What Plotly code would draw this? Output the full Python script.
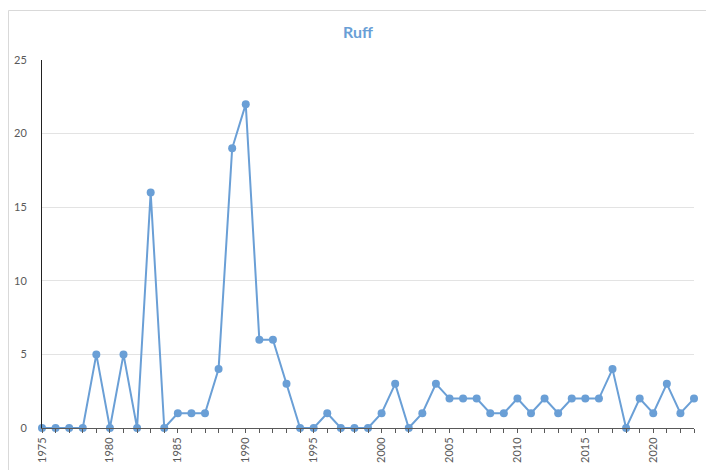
import plotly.graph_objects as go

years = list(range(1975, 2024))
counts = [0, 0, 0, 0, 5, 0, 5, 0, 16, 0,
          1, 1, 1, 4, 19, 22, 6, 6, 3, 0,
          0, 1, 0, 0, 0, 1, 3, 0, 1, 3,
          2, 2, 2, 1, 1, 2, 1, 2, 1, 2,
          2, 2, 4, 0, 2, 1, 3, 1, 2]
x_tickvals = list(range(1975, 2021, 5))
y_tickvals = [0, 5, 10, 15, 20, 25]

W, H = 706, 470
L, R, T, B = 42, 12, 60, 42

fig = go.Figure()
fig.add_trace(go.Scatter(
    x=years, y=counts, mode="lines+markers",
    line=dict(color="#6A9FD6", width=2),
    marker=dict(color="#6A9FD6", size=8),
    cliponaxis=False, showlegend=False,
))

pw = W - L - R
ph = H - T - B
bx0 = (8.5 - L) / pw
bx1 = (W + 5 - L) / pw
by0 = -(B + 5) / ph
by1 = (H - 10.5 - B) / ph
border = dict(color="#D9D9D9", width=1)
fig.add_shape(type="line", xref="paper", yref="paper",
              x0=bx0, x1=bx1, y0=by1, y1=by1, line=border, layer="below")
fig.add_shape(type="line", xref="paper", yref="paper",
              x0=bx0, x1=bx0, y0=by0, y1=by1, line=border, layer="below")

fig.update_layout(
    width=W, height=H,
    margin=dict(l=L, r=R, t=T, b=B, autoexpand=False),
    paper_bgcolor="white", plot_bgcolor="white",
    font=dict(family="Lato, 'Open Sans', sans-serif", color="#595959"),
    title=dict(text="<b>Ruff</b>", x=358 / W, xanchor="center",
               y=1 - 32 / H, yanchor="middle",
               font=dict(size=16, color="#6A9FD6")),
    xaxis=dict(range=[1975, 2023], tickvals=x_tickvals,
               tickangle=-90, ticks="outside", ticklen=4, tickcolor="#595959",
               tickfont=dict(size=11, color="#595959", family="Lato"),
               tickprefix="<b>", ticksuffix="</b>",
               showline=True, linecolor="#595959", linewidth=1,
               showgrid=False, zeroline=False, automargin=False,
               minor=dict(dtick=1, tick0=1975, ticks="outside", ticklen=4,
                          tickcolor="#595959", showgrid=False)),
    yaxis=dict(range=[0, 25], tickvals=y_tickvals,
               tickfont=dict(size=11, color="#595959", family="Lato"),
               tickprefix="<b>", ticksuffix="</b>",
               showline=True, linecolor="#222222", linewidth=1,
               showgrid=True, gridcolor="#E3E3E3", gridwidth=1,
               zeroline=False, ticks="", ticklabelstandoff=12,
               automargin=False),
)

fig.write_html("out.html",
               config={"displayModeBar": False},
               post_script="document.body.style.margin='0';"
                           "document.body.style.overflow='hidden';")
